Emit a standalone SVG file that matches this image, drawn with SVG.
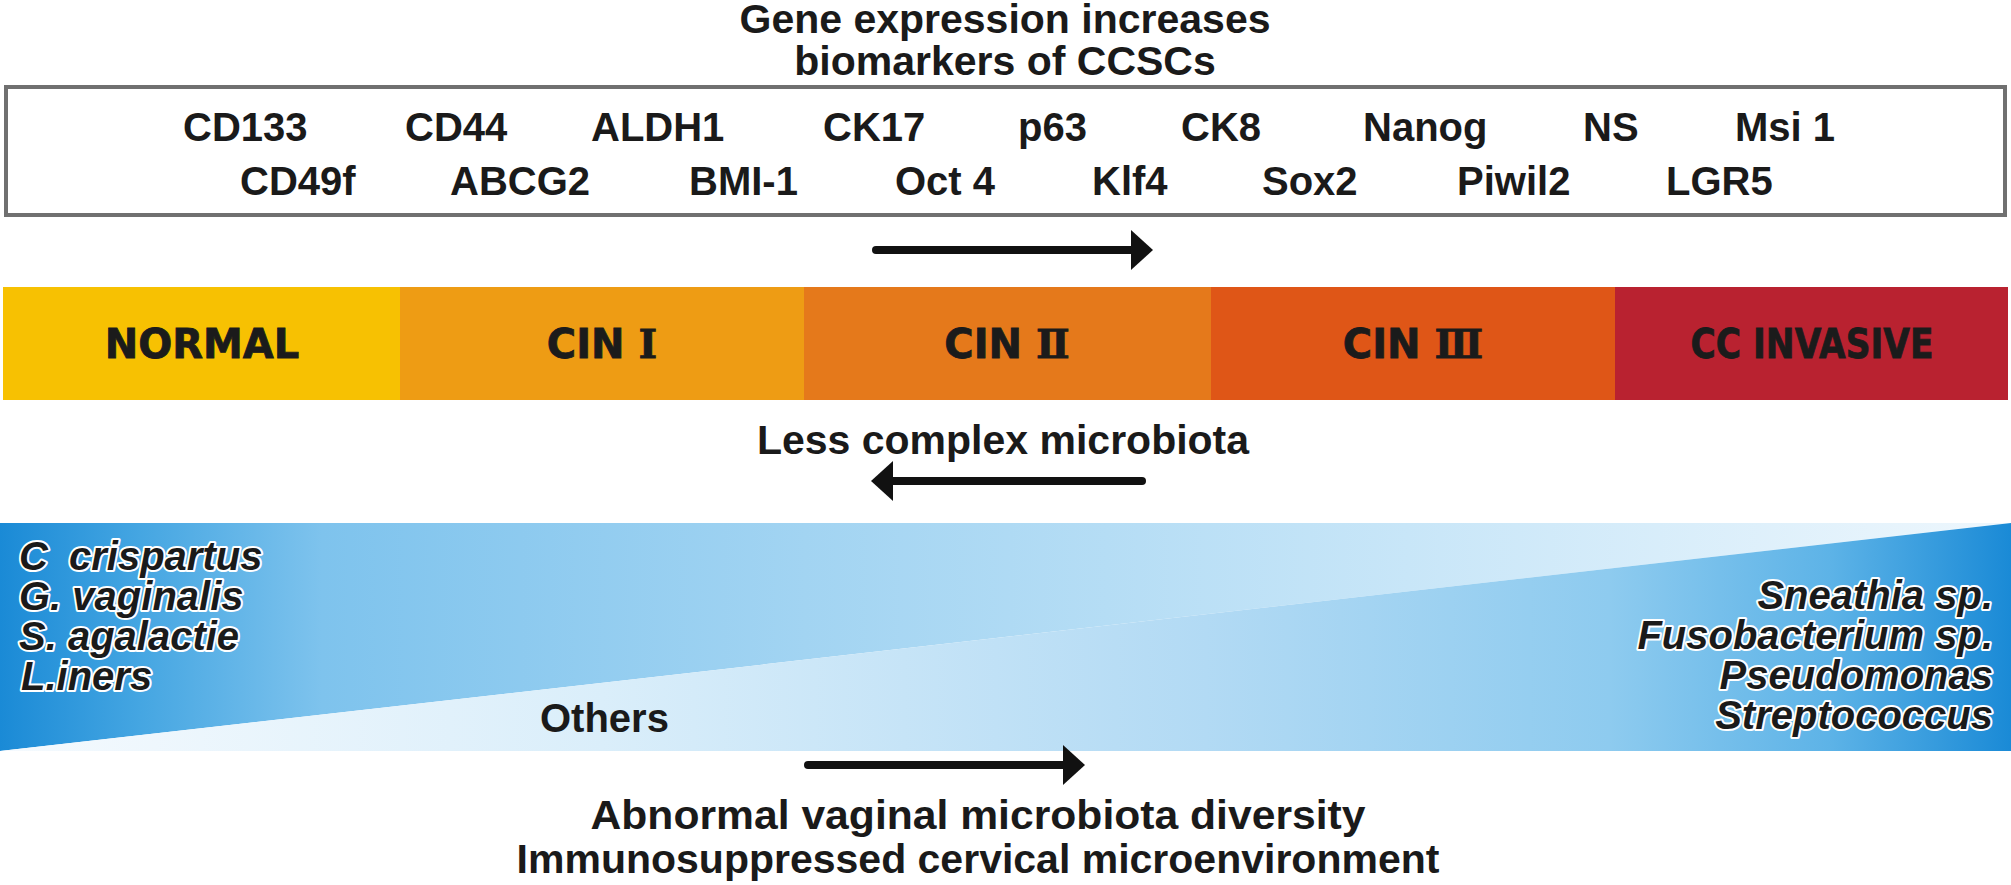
<svg xmlns="http://www.w3.org/2000/svg" width="2011" height="885" viewBox="0 0 2011 885">
<style>
.t{font-family:"Liberation Sans",Arial,sans-serif;font-weight:bold;fill:#1a1a1a}
.title{font-size:41px;text-anchor:middle}
.mk{font-size:40px}
.band{font-family:"DejaVu Sans",sans-serif;font-weight:bold;font-size:40px;fill:#1b1b1b;text-anchor:middle;stroke:#1b1b1b;stroke-width:0.8}
.num{font-family:"DejaVu Serif",serif;font-weight:bold}
.sp{font-family:"Liberation Sans",Arial,sans-serif;font-weight:bold;font-style:italic;font-size:40px;fill:#1a1a1a;stroke:#ffffff;stroke-width:4;paint-order:stroke;stroke-linejoin:round}
.arr{stroke:#111;stroke-width:8;fill:none;stroke-linecap:round}
</style>
<defs>
<marker id="ah" markerUnits="userSpaceOnUse" markerWidth="24" markerHeight="42" refX="1" refY="20" orient="auto"><path d="M0,0 L22,20 L0,40 Z" fill="#111"/></marker>
<linearGradient id="gUp" gradientUnits="userSpaceOnUse" x1="0" y1="0" x2="2011" y2="0">
<stop offset="0" stop-color="#1a8ad6"/>
<stop offset="0.07" stop-color="#45a6e2"/>
<stop offset="0.16" stop-color="#7ec3ed"/>
<stop offset="0.4" stop-color="#a2d4f2"/>
<stop offset="0.7" stop-color="#c8e6f8"/>
<stop offset="1" stop-color="#eef7fd"/>
</linearGradient>
<linearGradient id="gLo" gradientUnits="userSpaceOnUse" x1="0" y1="0" x2="2011" y2="0">
<stop offset="0" stop-color="#f5fafe"/>
<stop offset="0.3" stop-color="#daeefa"/>
<stop offset="0.6" stop-color="#b2daf4"/>
<stop offset="0.8" stop-color="#8ecbef"/>
<stop offset="0.91" stop-color="#5db3e7"/>
<stop offset="1" stop-color="#1a8ad6"/>
</linearGradient>
</defs>
<rect width="2011" height="885" fill="#ffffff"/>

<g id="title">
<text class="t title" x="1005" y="33">Gene expression increases</text>
<text class="t title" x="1005" y="75">biomarkers of CCSCs</text>
</g>

<g id="biomarkers">
<rect x="6" y="87" width="1999" height="128" fill="#ffffff" stroke="#707070" stroke-width="4"/>
<text class="t mk" x="183" y="141">CD133</text>
<text class="t mk" x="405" y="141">CD44</text>
<text class="t mk" x="591" y="141">ALDH1</text>
<text class="t mk" x="823" y="141">CK17</text>
<text class="t mk" x="1018" y="141">p63</text>
<text class="t mk" x="1181" y="141">CK8</text>
<text class="t mk" x="1363" y="141">Nanog</text>
<text class="t mk" x="1583" y="141">NS</text>
<text class="t mk" x="1735" y="141">Msi 1</text>
<text class="t mk" x="240" y="195">CD49f</text>
<text class="t mk" x="450" y="195">ABCG2</text>
<text class="t mk" x="689" y="195">BMI-1</text>
<text class="t mk" x="895" y="195">Oct 4</text>
<text class="t mk" x="1092" y="195">Klf4</text>
<text class="t mk" x="1262" y="195">Sox2</text>
<text class="t mk" x="1457" y="195">Piwil2</text>
<text class="t mk" x="1666" y="195">LGR5</text>
</g>

<g id="stages">
<g id="normal"><rect x="3" y="287" width="398" height="113" fill="#f7c102"/><text class="band" x="202" y="358">NORMAL</text></g>
<g id="cin1"><rect x="400" y="287" width="405" height="113" fill="#ee9c14"/><text class="band" x="602" y="358">CIN <tspan class="num">Ⅰ</tspan></text></g>
<g id="cin2"><rect x="804" y="287" width="408" height="113" fill="#e5791b"/><text class="band" x="1007" y="358">CIN <tspan class="num">Ⅱ</tspan></text></g>
<g id="cin3"><rect x="1211" y="287" width="405" height="113" fill="#df5617"/><text class="band" x="1413" y="358">CIN <tspan class="num">Ⅲ</tspan></text></g>
<g id="cc"><rect x="1615" y="287" width="393" height="113" fill="#b92230"/><text class="band" x="1812" y="358" textLength="243" lengthAdjust="spacingAndGlyphs">CC INVASIVE</text></g>
</g>

<g id="less-complex">
<text class="t title" x="1003" y="454">Less complex microbiota</text>
</g>

<g id="microbiota">
<polygon points="0,523 2011,523 0,751" fill="url(#gUp)"/>
<polygon points="0,751 2011,523 2011,751" fill="url(#gLo)"/>
<text class="sp" x="19" y="570">C <tspan dx="10">crispartus</tspan></text>
<text class="sp" x="19" y="610">G. vaginalis</text>
<text class="sp" x="19" y="650">S. agalactie</text>
<text class="sp" x="21" y="690">L.iners</text>
<text class="t" font-size="40" x="540" y="732">Others</text>
<text class="sp" x="1993" y="609" text-anchor="end">Sneathia sp.</text>
<text class="sp" x="1993" y="649" text-anchor="end">Fusobacterium sp.</text>
<text class="sp" x="1993" y="689" text-anchor="end">Pseudomonas</text>
<text class="sp" x="1993" y="729" text-anchor="end">Streptococcus</text>
</g>

<g id="outcome">
<text class="t title" x="978" y="829" textLength="775" lengthAdjust="spacingAndGlyphs">Abnormal vaginal microbiota diversity</text>
<text class="t title" x="978" y="873">Immunosuppressed cervical microenvironment</text>
</g>

<g id="connectors">
<line class="arr" x1="876" y1="250" x2="1132" y2="250" marker-end="url(#ah)"/>
<line class="arr" x1="1142" y1="481" x2="892" y2="481" marker-end="url(#ah)"/>
<line class="arr" x1="808" y1="765" x2="1064" y2="765" marker-end="url(#ah)"/>
</g>
</svg>
